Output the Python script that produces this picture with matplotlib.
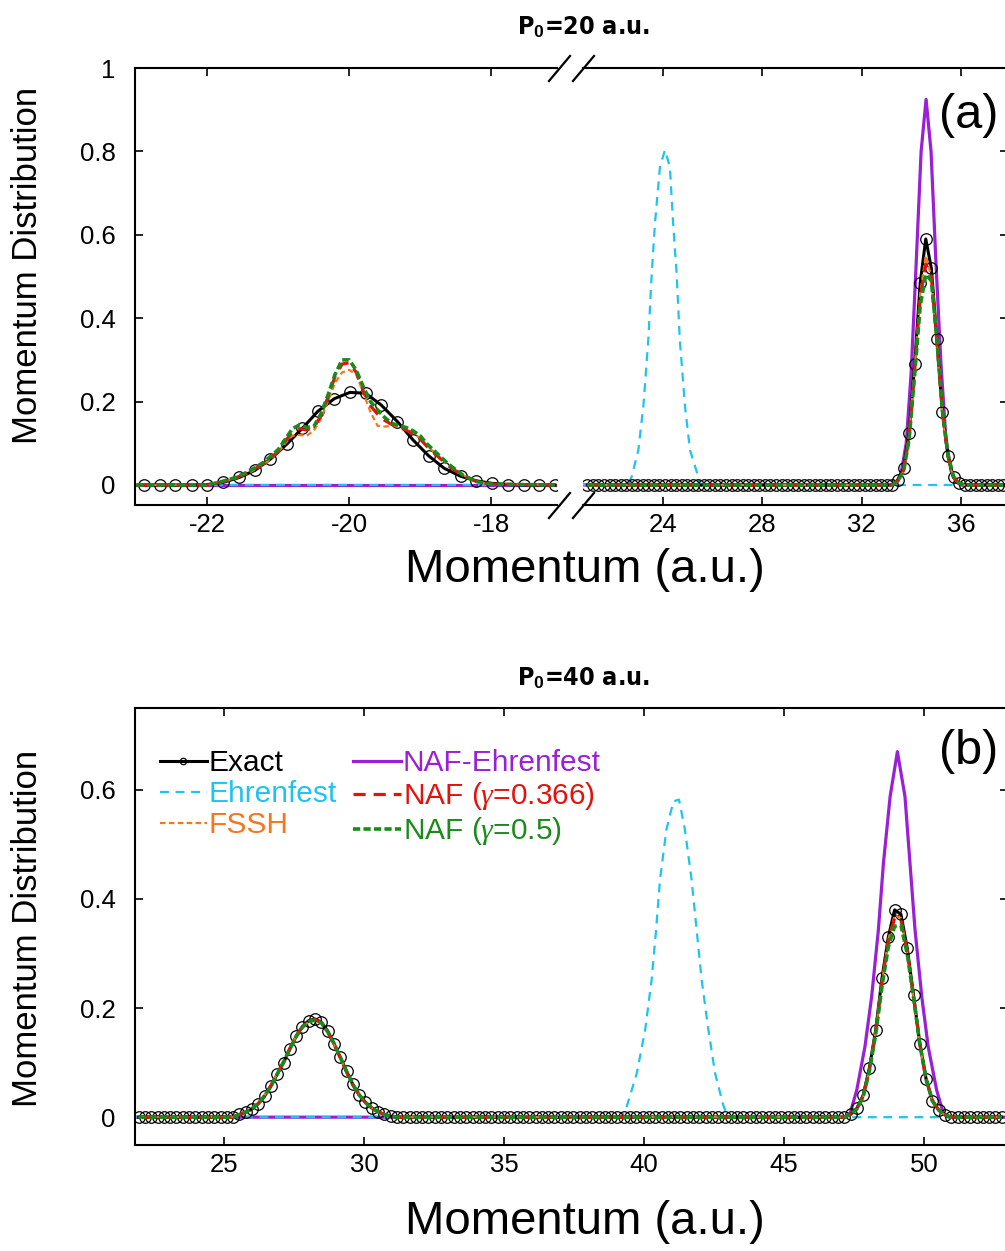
import numpy as np
import matplotlib
matplotlib.use('Agg')
import matplotlib.pyplot as plt
from matplotlib.lines import Line2D
from matplotlib import font_manager as fm

W, H = 1005, 1251
plt.rcParams['font.family'] = ['Liberation Sans', 'DejaVu Sans']
plt.rcParams['axes.unicode_minus'] = False
plt.rcParams['mathtext.fontset'] = 'custom'
plt.rcParams['mathtext.rm'] = 'Liberation Sans'
plt.rcParams['mathtext.it'] = 'Liberation Serif:italic'
plt.rcParams['mathtext.bf'] = 'Liberation Sans:bold'

# ---------------- DATA ----------------
labels = ['Exact', 'Ehrenfest', 'FSSH', 'NAF-Ehrenfest',
          r'NAF ($\gamma$=0.366)', r'NAF ($\gamma$=0.5)']
titles = [r'P$_\mathbf{0}$=20 a.u.', r'P$_\mathbf{0}$=40 a.u.']

# panel (a), left segment (negative momentum)
exact_aL_x = [-22.89, -22.67, -22.45, -22.22, -22.00, -21.78, -21.55, -21.33, -21.11,
              -20.88, -20.66, -20.44, -20.21, -19.99, -19.77, -19.55, -19.32, -19.10,
              -18.88, -18.66, -18.43, -18.21, -17.99, -17.76, -17.54, -17.32, -17.10]
exact_aL_y = [0, 0, 0, 0, 0.001, 0.006, 0.018, 0.035, 0.062,
              0.098, 0.136, 0.177, 0.207, 0.222, 0.22, 0.192, 0.152, 0.108,
              0.07, 0.04, 0.021, 0.01, 0.004, 0.001, 0, 0, 0]
traj_aL_x = [-23.0, -22.0, -21.8, -21.6, -21.4, -21.2, -21.0, -20.9, -20.8, -20.7,
             -20.6, -20.5, -20.4, -20.3, -20.2, -20.1, -20.0, -19.9, -19.8, -19.7,
             -19.6, -19.5, -19.4, -19.3, -19.2, -19.1, -19.0, -18.9, -18.8, -18.6,
             -18.4, -18.2, -18.0, -17.1]
fssh_aL = [0, 0, 0.007, 0.016, 0.03, 0.05, 0.078, 0.1, 0.118, 0.12,
           0.118, 0.13, 0.158, 0.2, 0.245, 0.27, 0.276, 0.265, 0.22, 0.175,
           0.142, 0.14, 0.142, 0.14, 0.135, 0.125, 0.112, 0.094, 0.078, 0.048,
           0.024, 0.008, 0.002, 0]
naf366_aL = [0, 0, 0.007, 0.017, 0.032, 0.052, 0.08, 0.105, 0.128, 0.135,
             0.132, 0.138, 0.165, 0.21, 0.26, 0.29, 0.293, 0.27, 0.225, 0.19,
             0.17, 0.155, 0.145, 0.138, 0.132, 0.122, 0.11, 0.092, 0.076, 0.046,
             0.022, 0.008, 0.002, 0]
naf05_aL = [0, 0, 0.008, 0.018, 0.034, 0.055, 0.085, 0.11, 0.135, 0.144,
            0.138, 0.14, 0.17, 0.215, 0.265, 0.30, 0.30, 0.275, 0.235, 0.2,
            0.18, 0.162, 0.148, 0.142, 0.138, 0.13, 0.118, 0.098, 0.082, 0.05,
            0.024, 0.008, 0.002, 0]
base_aL_x = [-23.0, -17.1]
base_aL_y = [0, 0]

# panel (a), right segment (positive momentum): sampling grid
grid_aR_start, grid_aR_step, grid_aR_n = 20.954, 0.2235, 76
exact_aR = [0.0] * 56 + [0.012, 0.04, 0.125, 0.29, 0.485, 0.59, 0.52, 0.35, 0.175, 0.07, 0.018, 0.005] + [0.0] * 8
fssh_aR = [0.0] * 56 + [0.01, 0.035, 0.12, 0.28, 0.46, 0.55, 0.50, 0.34, 0.17, 0.065, 0.016, 0.004] + [0.0] * 8
naf366_aR = [0.0] * 56 + [0.01, 0.035, 0.115, 0.275, 0.45, 0.53, 0.50, 0.345, 0.175, 0.07, 0.018, 0.005] + [0.0] * 8
naf05_aR = [0.0] * 56 + [0.01, 0.033, 0.11, 0.265, 0.43, 0.505, 0.49, 0.35, 0.18, 0.072, 0.02, 0.005] + [0.0] * 8
ehr_aR_x = [20.78, 22.6, 22.74, 23.01, 23.21, 23.41, 23.55, 23.68, 23.88, 24.08,
            24.28, 24.41, 24.55, 24.68, 24.89, 25.09, 25.38, 25.5, 37.9]
ehr_aR_y = [0, 0, 0.02, 0.084, 0.188, 0.348, 0.508, 0.628, 0.763, 0.803,
            0.763, 0.628, 0.508, 0.348, 0.188, 0.084, 0.028, 0, 0]
nafe_aR_x = [20.78, 33.2, 33.4, 33.6, 33.8, 34.0, 34.2, 34.4, 34.6, 34.8,
             35.0, 35.2, 35.4, 35.6, 35.8, 36.0, 37.9]
nafe_aR_y = [0, 0, 0.005, 0.03, 0.10, 0.27, 0.53, 0.80, 0.925, 0.80,
             0.53, 0.29, 0.11, 0.035, 0.008, 0, 0]

# panel (b): sampling grid
grid_b_start, grid_b_step, grid_b_n = 21.95, 0.225, 138
exact_b = ([0.0] * 16 +
           [0.005, 0.009, 0.015, 0.025, 0.039, 0.057, 0.079, 0.1, 0.125, 0.148, 0.166, 0.177, 0.18,
            0.174, 0.158, 0.135, 0.11, 0.084, 0.06, 0.041, 0.027, 0.017, 0.01, 0.005, 0.002] +
           [0.0] * 72 +
           [0.005, 0.016, 0.04, 0.09, 0.16, 0.255, 0.33, 0.38, 0.372, 0.31, 0.224, 0.135, 0.07, 0.03, 0.013, 0.004] +
           [0.0] * 9)
fssh_b = ([0.0] * 16 +
          [0.005, 0.009, 0.016, 0.026, 0.04, 0.058, 0.08, 0.102, 0.126, 0.148, 0.165, 0.175, 0.178,
           0.172, 0.156, 0.134, 0.109, 0.083, 0.06, 0.041, 0.027, 0.017, 0.01, 0.005, 0.002] +
          [0.0] * 72 +
          [0.005, 0.015, 0.038, 0.088, 0.158, 0.25, 0.325, 0.37, 0.365, 0.305, 0.22, 0.132, 0.068, 0.029, 0.012, 0.004] +
          [0.0] * 9)
naf366_b = ([0.0] * 16 +
            [0.005, 0.009, 0.016, 0.025, 0.039, 0.058, 0.08, 0.101, 0.126, 0.149, 0.166, 0.176, 0.179,
             0.173, 0.157, 0.134, 0.109, 0.083, 0.059, 0.041, 0.027, 0.017, 0.01, 0.005, 0.002] +
            [0.0] * 72 +
            [0.005, 0.015, 0.038, 0.087, 0.156, 0.248, 0.322, 0.365, 0.362, 0.305, 0.222, 0.134, 0.07, 0.03, 0.013, 0.004] +
            [0.0] * 9)
naf05_b = ([0.0] * 16 +
           [0.005, 0.009, 0.016, 0.025, 0.039, 0.057, 0.079, 0.101, 0.125, 0.148, 0.165, 0.175, 0.178,
            0.173, 0.157, 0.135, 0.11, 0.084, 0.06, 0.041, 0.027, 0.017, 0.01, 0.005, 0.002] +
           [0.0] * 72 +
           [0.005, 0.015, 0.037, 0.085, 0.152, 0.24, 0.312, 0.35, 0.352, 0.3, 0.22, 0.134, 0.07, 0.03, 0.013, 0.004] +
           [0.0] * 9)
ehr_b_x = [21.82, 39.2, 39.38, 39.74, 40.04, 40.27, 40.43, 40.57, 40.8, 41.05,
           41.25, 41.46, 41.70, 41.88, 42.06, 42.30, 42.54, 42.83, 43.0, 53.0]
ehr_b_y = [0, 0, 0.019, 0.08, 0.16, 0.251, 0.343, 0.435, 0.527, 0.579,
           0.582, 0.527, 0.435, 0.343, 0.251, 0.16, 0.08, 0.022, 0, 0]
nafe_b_x = [21.82, 47.2, 47.36, 47.6, 47.89, 48.13, 48.37, 48.55, 48.79, 49.05,
            49.32, 49.5, 49.68, 49.92, 50.15, 50.45, 50.69, 50.9, 53.0]
nafe_b_y = [0, 0, 0.007, 0.05, 0.129, 0.221, 0.343, 0.465, 0.588, 0.67,
            0.588, 0.465, 0.343, 0.221, 0.129, 0.05, 0.007, 0, 0]

xticks_aL = [-22, -20, -18]
xticks_aR = [24, 28, 32, 36]
xticks_b = [25, 30, 35, 40, 45, 50]
yticks_a = [0, 0.2, 0.4, 0.6, 0.8, 1.0]
yticklabels_a = ['0', '0.2', '0.4', '0.6', '0.8', '1']
yticks_b = [0, 0.2, 0.4, 0.6]
yticklabels_b = ['0', '0.2', '0.4', '0.6']

# ---------------- STYLE ----------------
C_EXACT = 'black'
C_EHR = '#1EC3F2'
C_FSSH = '#F5761F'
C_NAFE = '#9A1FD6'
C_R = '#E3120B'
C_G = '#1A8A1A'

st_exact = dict(color=C_EXACT, lw=2.2, marker='o', ms=8.3, mfc='none', mec='black', mew=0.9, zorder=3)
st_ehr = dict(color=C_EHR, lw=1.6, dashes=(4, 3), zorder=2.1)
st_fssh = dict(color=C_FSSH, lw=1.6, dashes=(2.5, 1.5), zorder=4)
st_nafe = dict(color=C_NAFE, lw=2.3, zorder=2)
st_r = dict(color=C_R, lw=2.3, dashes=(3.8, 2.5), zorder=5)
st_g = dict(color=C_G, lw=2.6, dashes=(2.0, 0.9), zorder=6)


def px_rect(x0, y0, x1, y1):
    return [x0 / W, 1 - y1 / H, (x1 - x0) / W, (y1 - y0) / H]


fig = plt.figure(figsize=(W / 100, H / 100), dpi=100)
axL = fig.add_axes(px_rect(135, 68, 557, 505))
axR = fig.add_axes(px_rect(583, 68, 1008, 505))
axB = fig.add_axes(px_rect(135, 708, 1008, 1145))

TICKFS = 18.5
for ax in (axL, axR, axB):
    for s in ax.spines.values():
        s.set_linewidth(1.5)
    ax.tick_params(direction='in', length=6, width=1.2, labelsize=TICKFS,
                   top=True, right=True)
    ax.tick_params(axis='x', pad=6)
    ax.tick_params(axis='y', pad=14)

# panel (a) left
axL.plot(base_aL_x, base_aL_y, **st_ehr)
axL.plot(base_aL_x, base_aL_y, **st_nafe)
axL.plot(exact_aL_x, exact_aL_y, **st_exact)
axL.plot(traj_aL_x, fssh_aL, **st_fssh)
axL.plot(traj_aL_x, naf366_aL, **st_r)
axL.plot(traj_aL_x, naf05_aL, **st_g)
axL.set_xlim(-23.02, -17.07)
axL.set_ylim(-0.048, 1.0)
axL.set_xticks(xticks_aL)
axL.set_xticklabels([str(t) for t in xticks_aL])
axL.set_yticks(yticks_a)
axL.set_yticklabels(yticklabels_a)
axL.spines['right'].set_visible(False)
axL.tick_params(right=False)

# panel (a) right
grid_aR = grid_aR_start + grid_aR_step * np.arange(grid_aR_n)
axR.plot(nafe_aR_x, nafe_aR_y, **st_nafe)
axR.plot(ehr_aR_x, ehr_aR_y, **st_ehr)
axR.plot(grid_aR, exact_aR, **st_exact)
axR.plot(grid_aR, fssh_aR, **st_fssh)
axR.plot(grid_aR, naf366_aR, **st_r)
axR.plot(grid_aR, naf05_aR, **st_g)
axR.set_xlim(20.78, 37.9)
axR.set_ylim(-0.048, 1.0)
axR.set_xticks(xticks_aR)
axR.set_xticklabels([str(t) for t in xticks_aR])
axR.set_yticks(yticks_a)
axR.set_yticklabels([])
axR.spines['left'].set_visible(False)
axR.tick_params(left=False, labelleft=False)

# panel (b)
grid_b = grid_b_start + grid_b_step * np.arange(grid_b_n)
hE, = axB.plot(grid_b, exact_b, label=labels[0], **st_exact)
hEh, = axB.plot(ehr_b_x, ehr_b_y, label=labels[1], **st_ehr)
hF, = axB.plot(grid_b, fssh_b, label=labels[2], **st_fssh)
hN, = axB.plot(nafe_b_x, nafe_b_y, label=labels[3], **st_nafe)
hR, = axB.plot(grid_b, naf366_b, label=labels[4], **st_r)
hG, = axB.plot(grid_b, naf05_b, label=labels[5], **st_g)
axB.set_xlim(21.82, 53.0)
axB.set_ylim(-0.051, 0.75)
axB.set_xticks(xticks_b)
axB.set_xticklabels([str(t) for t in xticks_b])
axB.set_yticks(yticks_b)
axB.set_yticklabels(yticklabels_b)

leg = axB.legend(handles=[hE, hEh, hF, hN, hR, hG], ncol=2, loc='upper left',
                 bbox_to_anchor=(0.011, 0.94), borderpad=0, frameon=False,
                 fontsize=21.5, handlelength=1.6, handletextpad=0.05,
                 labelspacing=0.1, columnspacing=0.55, markerscale=0.55)
for t, c in zip(leg.get_texts(), [C_EXACT, C_EHR, C_FSSH, C_NAFE, C_R, C_G]):
    t.set_color(c)

# break marks
for yb in (81, 518):
    for (x0, x1) in ((549, 570), (573, 594)):
        fig.add_artist(Line2D([x0 / W, x1 / W], [1 - yb / H, 1 - (yb - 25) / H],
                              transform=fig.transFigure, color='black', lw=1.6))

# texts
names = {f.name for f in fm.fontManager.ttflist}
if 'Liberation Sans Narrow' in names:
    tfont = dict(family='Liberation Sans Narrow', fontweight='bold')
else:
    tfont = dict(family='DejaVu Sans', fontweight='bold', fontstretch='condensed')
fig.text(583 / W, 1 - 27 / H, titles[0], ha='center', va='center', fontsize=18, **tfont)
fig.text(583 / W, 1 - 678 / H, titles[1], ha='center', va='center', fontsize=18, **tfont)
fig.text(585 / W, 1 - 570 / H, 'Momentum (a.u.)', ha='center', va='center', fontsize=34)
fig.text(585 / W, 1 - 1222 / H, 'Momentum (a.u.)', ha='center', va='center', fontsize=34)
fig.text(28 / W, 1 - 265 / H, 'Momentum Distribution', ha='center', va='center',
         rotation=90, fontsize=25)
fig.text(28 / W, 1 - 928 / H, 'Momentum Distribution', ha='center', va='center',
         rotation=90, fontsize=25)
fig.text(998 / W, 1 - 115 / H, '(a)', ha='right', va='center', fontsize=35)
fig.text(998 / W, 1 - 752 / H, '(b)', ha='right', va='center', fontsize=35)

fig.savefig('out.png', dpi=100)
